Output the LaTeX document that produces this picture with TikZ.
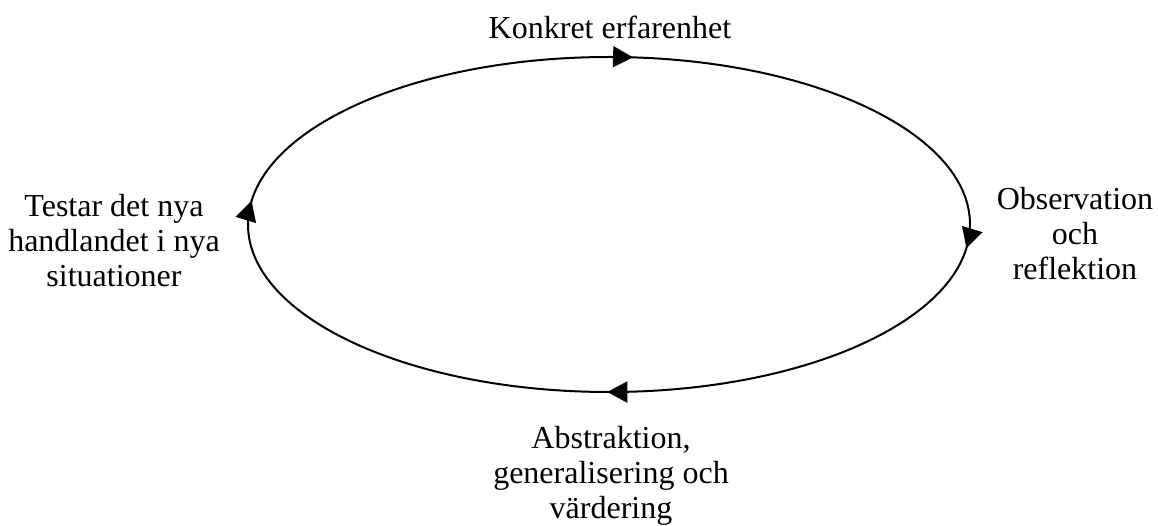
\documentclass[tikz,border=0pt]{standalone}
\usepackage{fontspec}
\setmainfont{Liberation Serif}
\usetikzlibrary{decorations.markings,arrows.meta}
\begin{document}
\begin{tikzpicture}[x=1pt,y=1pt,
  lbl/.style={font=\fontsize{32}{35}\selectfont, align=center, inner sep=0pt, anchor=base},
  cycletip/.tip={Triangle[length=20pt,width=21pt]},
  cycleline/.style={line width=2pt,
    decoration={markings,
      mark=at position 0.014 with {\arrow{cycletip}},
      mark=at position 0.251 with {\arrow{cycletip}},
      mark=at position 0.514 with {\arrow{cycletip}},
      mark=at position 0.764 with {\arrow{cycletip}}},
    postaction={decorate}}]
\useasboundingbox (0,0) rectangle (1158,525);
\coordinate (c) at (609,300.5);
\coordinate (e) at (970,300.5);
\draw[cycleline] (e) arc[start angle=360, end angle=0, x radius=361, y radius=167.5];
\node[lbl] (ke) at (610,486) {Konkret erfarenhet};
\node[lbl] (or) at (1075,245) {Observation\\och\\reflektion};
\node[lbl] (ag) at (611,7) {Abstraktion,\\generalisering och\\värdering};
\node[lbl] (tn) at (114,238) {Testar det nya\\handlandet i nya\\situationer};
\end{tikzpicture}
\end{document}
